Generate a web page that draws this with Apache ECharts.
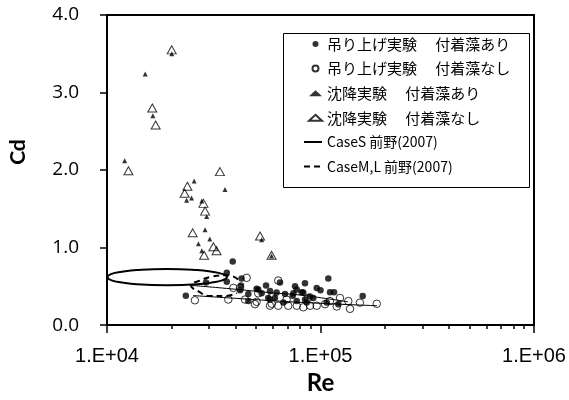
<!DOCTYPE html>
<html><head><meta charset="utf-8">
<script src="https://cdn.jsdelivr.net/npm/echarts@6/dist/echarts.min.js"></script>
<style>html,body{margin:0;padding:0;background:#fff}#c{width:569px;height:400px}</style>
</head><body><div id="c"></div>
<script>
// ---- tick labels ----
const xTickLabels = {4: '1.E+04', 5: '1.E+05', 6: '1.E+06'};
const yTickLabels = ['0.0', '1.0', '2.0', '3.0', '4.0'];
const xMinorTicks = [2e4, 3e4, 4e4, 5e4, 6e4, 7e4, 8e4, 9e4, 2e5, 3e5, 4e5, 5e5, 6e5, 7e5, 8e5, 9e5];

// ---- series names ----
const seriesNames = ['吊り上げ実験\u3000 付着藻あり', '吊り上げ実験\u3000 付着藻なし', '沈降実験\u3000 付着藻あり', '沈降実験\u3000 付着藻なし', 'CaseS 前野(2007)', 'CaseM,L 前野(2007)'];

// ---- data [Re, Cd] ----
const liftWithAlgae = [
  [3.88e4,0.82],[3.64e4,0.675],[3.64e4,0.56],[2.91e4,0.55],[2.34e4,0.38],[4.27e4,0.60],[4.24e4,0.51],[4.20e4,0.45],
  [4.59e4,0.31],[5.02e4,0.47],[5.56e4,0.51],[5.30e4,0.41],[5.80e4,0.44],[5.69e4,0.35],[6.12e4,0.35],[6.46e4,0.55],
  [6.82e4,0.40],[7.41e4,0.38],[7.60e4,0.50],[7.74e4,0.46],[7.46e4,0.41],[8.16e4,0.425],[8.46e4,0.54],[8.46e4,0.33],
  [8.93e4,0.37],[9.60e4,0.48],[1.00e5,0.45],[1.088e5,0.60],[1.108e5,0.425],[1.157e5,0.425],[1.212e5,0.27],[1.576e5,0.375],
  [7.74e4,0.31],[6.70e4,0.29],[8.62e4,0.29],[1.069e5,0.29],[5.11e4,0.46],[4.59e4,0.40],[5.80e4,0.33],[9.25e4,0.35],
  [6.23e4,0.42],[8.31e4,0.42]
];
const liftNoAlgae = [
  [2.58e4,0.32],[3.70e4,0.33],[3.91e4,0.48],[4.51e4,0.61],[5.11e4,0.41],[4.43e4,0.33],[4.93e4,0.27],[6.34e4,0.575],
  [5.80e4,0.25],[6.34e4,0.25],[7.06e4,0.25],[7.74e4,0.25],[8.31e4,0.23],[6.94e4,0.33],[8.93e4,0.25],[9.60e4,0.25],
  [1.05e5,0.27],[1.108e5,0.31],[1.191e5,0.24],[1.234e5,0.35],[1.35e5,0.31],[1.375e5,0.21],[1.53e5,0.29],[1.834e5,0.275],
  [8.76e4,0.35],[5.91e4,0.275],[5.02e4,0.30],[4.20e4,0.48],[5.91e4,0.36]
];
const settleWithAlgae = [
  [2.01e4,3.50],[1.51e4,3.24],[1.64e4,2.70],[1.21e4,2.12],[2.56e4,1.86],[3.57e4,1.75],[2.36e4,1.61],[2.49e4,1.64],
  [2.78e4,1.60],[2.93e4,1.40],[2.88e4,1.23],[2.68e4,1.05],[3.03e4,1.11],[2.78e4,0.96],[5.30e4,1.10],[5.90e4,0.89]
];
const settleNoAlgae = [
  [2.01e4,3.55],[1.63e4,2.80],[1.69e4,2.58],[1.26e4,1.99],[3.38e4,1.98],[2.38e4,1.79],[2.31e4,1.70],[2.83e4,1.57],
  [2.88e4,1.47],[2.52e4,1.19],[3.15e4,1.01],[2.85e4,0.90],[3.26e4,0.96],[5.21e4,1.15],[5.90e4,0.90]
];
const caseSLoop = [
  [1.91e4,0.5125],[2.64e4,0.5263],[3.10e4,0.5488],[3.46e4,0.5763],[3.65e4,0.619],[3.46e4,0.6613],[3.10e4,0.6888],[2.64e4,0.7113],
  [1.91e4,0.725],[1.38e4,0.7113],[1.176e4,0.6888],[1.05e4,0.6613],[1.005e4,0.619],[1.05e4,0.5763],[1.176e4,0.5488],[1.38e4,0.5263],[1.91e4,0.5125]
];
const caseSUpper = [[2.47e4,0.5125],[3.77e4,0.469],[5.80e4,0.419],[8.02e4,0.3875],[1.345e5,0.30]];
const caseSLower = [[2.53e4,0.381],[3.77e4,0.35],[8.02e4,0.294],[1.84e5,0.25]];
const caseML = [[4.11e4,0.5875],[3.69e4,0.644],[3.10e4,0.625],[2.73e4,0.575],[2.47e4,0.5125],[2.67e4,0.4375],[3.04e4,0.375],[3.57e4,0.375],[4.06e4,0.4125]];

const chart = echarts.init(document.getElementById('c'));
const lineS = (data, w) => ({
  name: seriesNames[4], type: 'line', data: data, smooth: 0.5, symbol: 'none', z: 3,
  lineStyle: {color: '#000', width: w}, itemStyle: {color: '#000'}
});
chart.setOption({
  animation: false,
  backgroundColor: '#fff',
  grid: {left: 107, right: 35, top: 15, bottom: 65, show: true, borderColor: '#000', borderWidth: 2, containLabel: false},
  legend: [
    {
      data: seriesNames.slice(0, 4), orient: 'vertical', left: 303, top: 31,
      itemWidth: 13, itemHeight: 6, itemGap: 8.6,
      textStyle: {fontFamily: 'Noto Sans CJK JP', fontSize: 15, color: '#000', lineHeight: 16}
    },
    {
      data: seriesNames.slice(4), orient: 'vertical', left: 298, top: 129,
      itemWidth: 18, itemHeight: 10, itemGap: 8.6,
      itemStyle: {color: 'rgba(0,0,0,0)', borderWidth: 0, opacity: 0},
      textStyle: {fontFamily: 'Noto Sans CJK JP', fontSize: 14, color: '#000', lineHeight: 16}
    }
  ],
  graphic: [{type: 'rect', left: 281, top: 31, shape: {width: 246, height: 154}, style: {fill: 'none', stroke: '#000', lineWidth: 1}, z: 10}],
  xAxis: [
    {
      type: 'log', logBase: 10, min: 1e4, max: 1e6, position: 'bottom',
      name: 'Re', nameLocation: 'middle', nameGap: 43,
      nameTextStyle: {fontFamily: 'Lato', fontWeight: 'bold', fontSize: 24, color: '#000'},
      axisLine: {lineStyle: {color: '#000', width: 2}},
      axisTick: {show: true, length: 8, lineStyle: {color: '#000', width: 1.5}},
      axisLabel: {margin: 21, fontFamily: 'Liberation Sans', fontSize: 20, color: '#000',
        formatter: v => xTickLabels[Math.round(Math.log10(v))]},
      splitLine: {show: false}
    },
    {
      type: 'value', min: 4, max: 6, position: 'bottom',
      axisLine: {show: false},
      axisTick: {show: true, length: 4, customValues: xMinorTicks.map(v => Math.log10(v)), lineStyle: {color: '#000', width: 1.5}},
      axisLabel: {show: false}, splitLine: {show: false}
    }
  ],
  yAxis: {
    type: 'value', min: 0, max: 4, interval: 1,
    name: 'Cd', nameLocation: 'middle', nameGap: 78,
    nameTextStyle: {fontFamily: 'Lato', fontWeight: 'bold', fontSize: 21, color: '#000', padding: [0, 0, 0, 36]},
    axisLine: {show: true, lineStyle: {color: '#000', width: 2}},
    axisTick: {show: true, length: 7, lineStyle: {color: '#000', width: 1.5}},
    axisLabel: {margin: 28, fontFamily: 'Open Sans', fontSize: 19, color: '#000', formatter: v => yTickLabels[v]},
    splitLine: {show: false}
  },
  series: [
    {name: seriesNames[0], type: 'scatter', data: liftWithAlgae, symbol: 'circle', symbolSize: 6.5, z: 2,
     itemStyle: {color: '#000'}},
    {name: seriesNames[1], type: 'scatter', data: liftNoAlgae, symbol: 'circle', symbolSize: 7.5, z: 2,
     itemStyle: {color: 'rgba(255,255,255,0)', borderColor: '#000', borderWidth: 1}},
    {name: seriesNames[2], type: 'scatter', data: settleWithAlgae, symbol: 'triangle', symbolSize: 5, z: 2,
     itemStyle: {color: '#000'}},
    {name: seriesNames[3], type: 'scatter', data: settleNoAlgae, symbol: 'triangle', symbolSize: [9, 8], z: 2,
     itemStyle: {color: 'rgba(255,255,255,0)', borderColor: '#000', borderWidth: 1}},
    lineS(caseSLoop, 2),
    lineS(caseSUpper, 1),
    lineS(caseSLower, 1),
    {name: seriesNames[5], type: 'line', data: caseML, smooth: true, symbol: 'none', z: 3,
     lineStyle: {color: '#000', width: 2, type: [6, 4]}, itemStyle: {color: '#000'}}
  ]
});
</script>
</body></html>
